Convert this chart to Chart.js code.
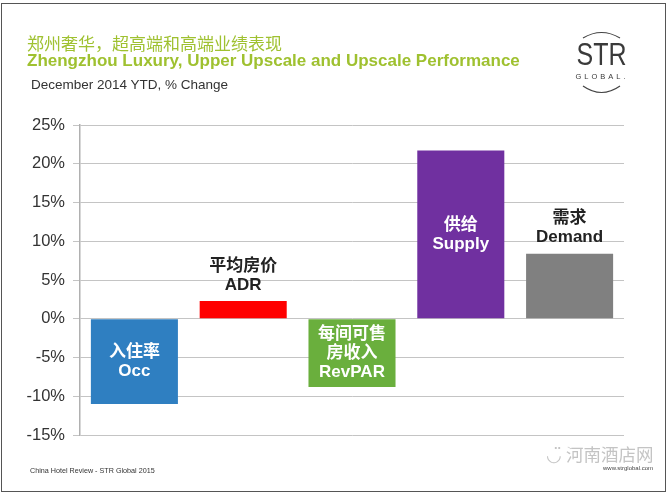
<!DOCTYPE html>
<html>
<head>
<meta charset="utf-8">
<script src="https://cdn.jsdelivr.net/npm/chart.js@4"></script>
<style>
  html, body { margin: 0; padding: 0; background: #fff; }
  body { width: 670px; height: 496px; position: relative; overflow: hidden;
         font-family: "Liberation Sans", Arial, "Noto Sans CJK SC", sans-serif; }
  #frame { position: absolute; left: 1px; top: 3px; width: 665px; height: 489px;
           border: 1.5px solid #555; box-sizing: border-box; }
  #wrap { position: absolute; left: 0; top: 0; width: 670px; height: 496px; }
  .t { position: absolute; white-space: nowrap; }
  #cn { left: 27px; top: 34px; font-size: 17px; line-height: 18px; color: #9fc130; font-family: "Noto Sans CJK SC", sans-serif; }
  #en { left: 27px; top: 52px; font-size: 17px; line-height: 18px; font-weight: bold; color: #9fc130; }
  #sub { left: 31px; top: 77px; font-size: 13.5px; line-height: 15px; color: #333; }
  #foot { left: 30px; top: 466px; font-size: 7.2px; line-height: 9px; color: #333; }
  #wm { left: 546px; top: 444px; font-size: 17.5px; line-height: 20px; color: #c4c4c4; font-family: "Noto Sans CJK SC", sans-serif; }
  #url { left: 603px; top: 464px; font-size: 6px; line-height: 9px; color: #444; }
  #logo { position: absolute; left: 568px; top: 28px; }
</style>
</head>
<body>
<div id="wrap"><canvas id="chart" width="670" height="496"></canvas></div>
<div id="frame"></div>
<div class="t" id="cn">郑州奢华，超高端和高端业绩表现</div>
<div class="t" id="en">Zhengzhou Luxury, Upper Upscale and Upscale Performance</div>
<div class="t" id="sub">December 2014 YTD, % Change</div>
<div class="t" id="foot">China Hotel Review - STR Global 2015</div>
<div class="t" id="wm">◡̈ 河南酒店网</div>
<div class="t" id="url">www.strglobal.com</div>
<svg id="logo" width="70" height="72" viewBox="0 0 70 72">
  <path d="M15 10 Q 33.5 -1 52 10" fill="none" stroke="#444" stroke-width="1.2"/>
  <path d="M15 58 Q 33.5 71 52 58" fill="none" stroke="#444" stroke-width="1.2"/>
  <text x="33.5" y="37" text-anchor="middle" font-family="Liberation Sans, Arial" font-size="31" fill="#3a3a3a" textLength="50" lengthAdjust="spacingAndGlyphs">STR</text>
  <text x="34" y="51" text-anchor="middle" font-family="Liberation Sans, Arial" font-size="7.5" fill="#3a3a3a" letter-spacing="3">GLOBAL.</text>
</svg>
<script>
// categories and values (% change, Dec 2014 YTD)
const labelsCn = [['入住率'], ['平均房价'], ['每间可售', '房收入'], ['供给'], ['需求']];
const labelsEn = ['Occ', 'ADR', 'RevPAR', 'Supply', 'Demand'];
const values = [-11.0, 2.3, -8.8, 21.7, 8.4];
const barColors = ['#2f7fc1', '#ff0000', '#6aaf3d', '#7030a0', '#808080'];
const insideBar = [true, false, true, true, false];
const yTicks = [-15, -10, -5, 0, 5, 10, 15, 20, 25];

const barLabels = {
  id: 'barLabels',
  afterDatasetsDraw(chart) {
    const ctx = chart.ctx;
    const meta = chart.getDatasetMeta(0);
    ctx.save();
    ctx.textAlign = 'center';
    ctx.textBaseline = 'middle';
    ctx.font = 'bold 17px "Liberation Sans", Arial, "Noto Sans CJK SC", sans-serif';
    const lh = 19;
    meta.data.forEach((bar, i) => {
      const lines = labelsCn[i].concat([labelsEn[i]]);
      let yStart;
      if (insideBar[i]) {
        const mid = (bar.y + bar.base) / 2;
        yStart = mid - (lines.length - 1) * lh / 2;
        ctx.fillStyle = '#ffffff';
      } else {
        yStart = bar.y - 16 - (lines.length - 1) * lh;
        ctx.fillStyle = '#222222';
      }
      lines.forEach((s, k) => ctx.fillText(s, bar.x, yStart + k * lh));
    });
    ctx.restore();
  }
};

new Chart(document.getElementById('chart'), {
  type: 'bar',
  data: {
    labels: labelsEn,
    datasets: [{
      data: values,
      backgroundColor: barColors,
      borderWidth: 0,
      barPercentage: 0.8,
      categoryPercentage: 1.0
    }]
  },
  options: {
    responsive: false,
    animation: false,
    devicePixelRatio: 1,
    layout: { padding: { left: 0, top: 125, right: 46, bottom: 61 } },
    plugins: { legend: { display: false }, tooltip: { enabled: false } },
    scales: {
      x: { display: false },
      y: {
        min: -15,
        max: 25,
        afterBuildTicks: (scale) => { scale.ticks = yTicks.map(v => ({ value: v })); },
        afterFit: (scale) => { scale.width = 80; },
        ticks: {
          callback: (v) => v + '%',
          color: '#333',
          font: { size: 16.5, family: '"Liberation Sans", Arial, sans-serif' },
          padding: 8
        },
        grid: { color: '#c4c4c4', lineWidth: 1, tickLength: 7 },
        border: { color: '#b0b0b0', width: 1.5 }
      }
    }
  },
  plugins: [barLabels]
});
</script>
</body>
</html>
